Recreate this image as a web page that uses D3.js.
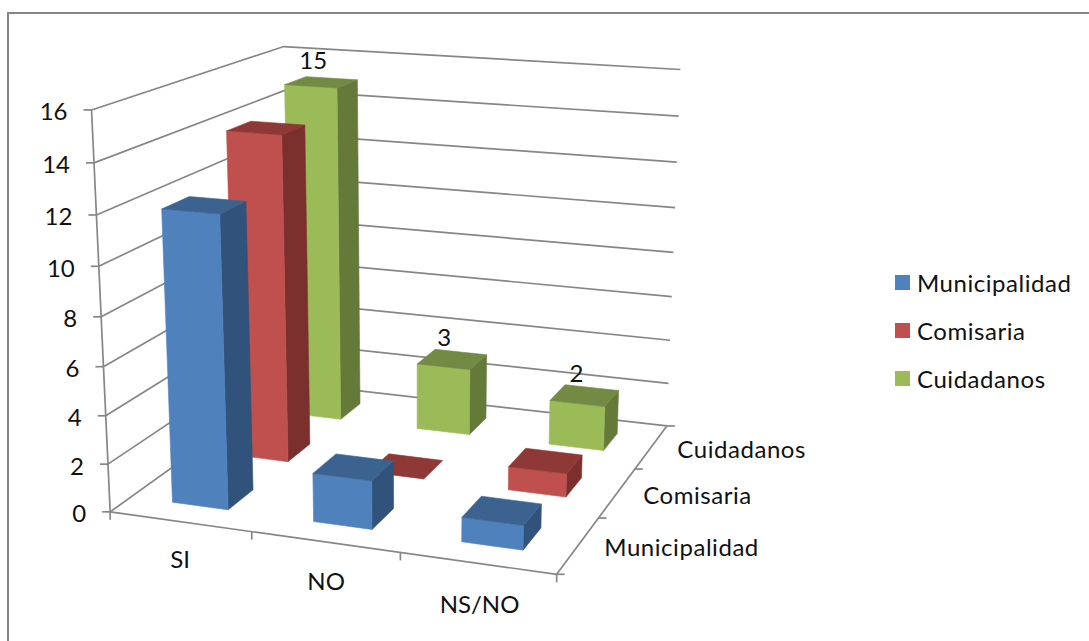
<!DOCTYPE html>
<html><head><meta charset="utf-8">
<script src="https://cdn.jsdelivr.net/npm/d3@7"></script>
<style>
html,body{margin:0;padding:0;background:#fff;overflow:hidden}
text{font-family:Lato,"Open Sans",sans-serif;fill:#111}
text.wide{letter-spacing:0.55px}
</style></head><body>
<svg id="c" width="1089" height="641"></svg>
<script>
const categories = ["SI","NO","NS/NO"];
const seriesNames = ["Municipalidad","Comisaria","Cuidadanos"];
const municipalidad = [12,2,1];
const comisaria = [14,0,1];
const cuidadanos = [15,3,2];
const yTicks = [0,2,4,6,8,10,12,14,16];
const seriesValues = [municipalidad,comisaria,cuidadanos];
const front = ["#4F81BD","#C0504D","#9BBB59"];
const side  = ["#31527B","#7C302E","#657A38"];
const top_  = ["#3C6390","#8E3936","#728A44"];
const GRID = "#868686";
const FS = 24;

// camera calibration: cube corners (u,v,w) to screen
const calib = [
 [0,0,0,108.5,513],[1,0,0,557,573],[1,1,0,666,427.5],[0,1,0,292,381.5],
 [0,0,1,93,110],[0,1,1,282,47],[1,1,1,681,69]];
function solve(A,b){
  const n=b.length,M=A.map((r,i)=>[...r,b[i]]);
  for(let i=0;i<n;i++){
    let p=i;for(let k=i+1;k<n;k++)if(Math.abs(M[k][i])>Math.abs(M[p][i]))p=k;
    [M[i],M[p]]=[M[p],M[i]];
    for(let k=0;k<n;k++){if(k===i)continue;const f=M[k][i]/M[i][i];for(let j=i;j<=n;j++)M[k][j]-=f*M[i][j];}
  }
  return M.map((r,i)=>r[n]/r[i]);
}
const rows=[],rhs=[];
calib.forEach(([u,v,w,x,y])=>{
  rows.push([u,v,w,1,0,0,0,0,-x*u,-x*v,-x*w]);rhs.push(x);
  rows.push([0,0,0,0,u,v,w,1,-y*u,-y*v,-y*w]);rhs.push(y);
});
const AtA=d3.range(11).map(i=>d3.range(11).map(j=>d3.sum(rows,r=>r[i]*r[j])));
const Atb=d3.range(11).map(i=>d3.sum(rows,(r,k)=>r[i]*rhs[k]));
const P=solve(AtA,Atb);
const project=(u,v,w)=>{
  const d=P[8]*u+P[9]*v+P[10]*w+1;
  return [(P[0]*u+P[1]*v+P[2]*w+P[3])/d,(P[4]*u+P[5]*v+P[6]*w+P[7])/d];
};

const xScale=d3.scaleBand().domain(categories).range([0,1]).paddingInner(0.6).paddingOuter(0.3);
const zScale=d3.scaleBand().domain(seriesNames).range([0,1]).paddingInner(0.6).paddingOuter(0.3);
const yScale=d3.scaleLinear().domain([0,16]).range([0,1]);
const xStep=d3.scalePoint().domain(d3.range(categories.length+1)).range([0,1]);
const zStep=d3.scalePoint().domain(d3.range(seriesNames.length+1)).range([0,1]);

const svg=d3.select("#c");
const path=d3.line();
const seg=(g,a,b,w=1.7)=>g.append("line").attr("x1",a[0]).attr("y1",a[1]).attr("x2",b[0]).attr("y2",b[1])
  .attr("stroke",GRID).attr("stroke-width",w);

// outer frame
svg.append("rect").attr("x",8).attr("y",13).attr("width",1200).attr("height",800)
  .attr("fill","#fff").attr("stroke","#868686").attr("stroke-width",2);

// walls
const grid=svg.append("g");
yTicks.forEach(t=>{
  const w=yScale(t);
  grid.append("path").attr("d",path([project(0,0,w),project(0,1,w),project(1,1,w)]))
    .attr("fill","none").attr("stroke",GRID).attr("stroke-width",1.7);
});
// axes
const axes=svg.append("g");
seg(axes,project(0,0,0),project(0,0,1));
seg(axes,project(0,0,0),project(1,0,0));
seg(axes,project(1,0,0),project(1,1,0));
yTicks.forEach(t=>{
  const p=project(0,0,yScale(t));
  seg(axes,p,[p[0]-8,p[1]]);
  svg.append("text").attr("x",p[0]-24).attr("y",p[1]+10.5).attr("text-anchor","end").attr("font-size",FS).text(t);
});
xStep.domain().forEach(i=>{
  const p=project(xStep(i),0,0);
  seg(axes,p,[p[0],p[1]+8]);
});
zStep.domain().forEach(i=>{
  const p=project(1,zStep(i),0);
  seg(axes,p,[p[0]+8,p[1]]);
});
categories.forEach((c,ci)=>{
  const p=project(xScale(c)+xScale.bandwidth()/2,0,0);
  svg.append("text").attr("x",p[0]+ci).attr("y",p[1]+46+2*ci).attr("text-anchor","middle").attr("font-size",FS).text(c);
});
seriesNames.forEach(s=>{
  const p=project(1,zScale(s)+zScale.bandwidth()/2,0);
  svg.append("text").attr("class","wide").attr("x",p[0]+26).attr("y",p[1]+11).attr("font-size",FS).text(s);
});

// bars, back to front
const bars=svg.append("g");
d3.range(seriesNames.length-1,-1,-1).forEach(si=>{
  const s=seriesNames[si];
  categories.forEach((c,ci)=>{
    const val=seriesValues[si][ci];
    const u0=xScale(c),u1=u0+xScale.bandwidth(),v0=zScale(s),v1=v0+zScale.bandwidth(),w=yScale(val);
    const g=bars.append("g");
    const face=(pts,col)=>g.append("path").attr("d",path(pts.map(p=>project(...p)))+"Z")
      .attr("fill",col).attr("stroke",col).attr("stroke-width",0.6);
    if(val>0){
      face([[u1,v0,0],[u1,v1,0],[u1,v1,w],[u1,v0,w]],side[si]);
      face([[u0,v0,0],[u1,v0,0],[u1,v0,w],[u0,v0,w]],front[si]);
    }
    face([[u0,v0,w],[u1,v0,w],[u1,v1,w],[u0,v1,w]],top_[si]);
  });
});
// data labels: only the Cuidadanos series carries them
categories.forEach((c,ci)=>{
  const s="Cuidadanos",val=cuidadanos[ci];
  const p=project(xScale(c)+xScale.bandwidth()/2,zScale(s)+zScale.bandwidth()/2,yScale(val));
  svg.append("text").attr("x",p[0]-8).attr("y",p[1]-13).attr("text-anchor","middle").attr("font-size",FS).text(val);
});

// legend
const legend=svg.append("g");
const lgY=d3.scalePoint().domain(seriesNames).range([275,371]);
seriesNames.forEach((s,i)=>{
  legend.append("rect").attr("x",895).attr("y",lgY(s)).attr("width",15).attr("height",15).attr("fill",front[i]);
  legend.append("text").attr("class","wide").attr("x",917).attr("y",lgY(s)+17).attr("font-size",FS).text(s);
});
</script></body></html>
